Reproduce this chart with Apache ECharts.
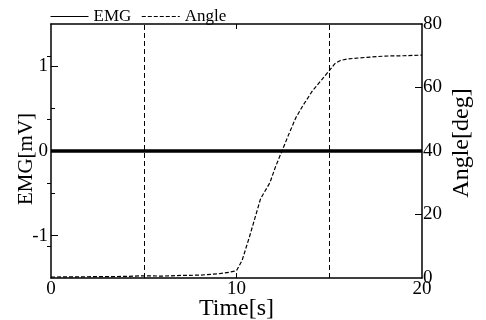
<!DOCTYPE html>
<html>
<head>
<meta charset="utf-8">
<script src="https://cdn.jsdelivr.net/npm/echarts@6/dist/echarts.min.js"></script>
<style>
  html, body { margin: 0; padding: 0; background: #fff; }
  #chart { width: 486px; height: 320px; }
</style>
</head>
<body>
<div id="chart"></div>
<script>
// time [s] and EMG [mV]
var emgTime = [0, 2, 4, 6, 8, 10, 12, 14, 16, 18, 20]
var emgValues = [0, 0, 0, 0, 0, 0, 0, 0, 0, 0, 0]
// time [s] and knee angle [deg]
var angleTime = [0, 2, 4, 5, 6, 7, 8, 9, 9.6, 10, 10.3, 10.7, 11, 11.3, 11.8, 12.1, 12.45, 12.8, 13.2, 13.6, 14.1, 14.6, 15, 15.3, 15.6, 16, 17, 18, 19, 20]
var angleValues = [0.3, 0.4, 0.5, 0.7, 0.6, 0.8, 0.9, 1.3, 1.8, 2.3, 5.5, 13, 19, 25, 30, 35, 40, 45, 50.5, 54.5, 59, 62.5, 65.3, 67.5, 68.5, 69, 69.5, 69.9, 70, 70.2]
// marker times (dashed vertical lines)
var markTimes = [5, 15]
// tick labels
var xLabels = [0, 10, 20]
var emgLabels = [-1, 0, 1]
var emgMinor = [-0.5, 0.5]
var angleLabels = [0, 20, 40, 60, 80]
var angleMajor = [20, 40, 60]
var angleMinor = [10, 30, 50, 70]

var font = 'Liberation Serif'

function pairs(xs, ys) {
  return xs.map(function (x, i) { return [x, ys[i]] })
}

var lineAxis = { onZero: false, lineStyle: { color: '#000', width: 1.5 } }

var chart = echarts.init(document.getElementById('chart'))
chart.setOption({
  animation: false,
  backgroundColor: '#fff',
  textStyle: { fontFamily: font, color: '#000' },
  grid: { left: 51, right: 64, top: 24, bottom: 42, outerBoundsMode: 'none', containLabel: false },
  legend: {
    data: ['EMG', 'Angle'],
    left: 45,
    top: 3,
    itemWidth: 38,
    itemHeight: 14,
    itemGap: 10,
    lineStyle: { width: 1 },
    itemStyle: { opacity: 0 },
    textStyle: { fontFamily: font, fontSize: 17, color: '#000' }
  },
  xAxis: [
    {
      type: 'value',
      min: 0,
      max: 20,
      interval: 10,
      name: 'Time[s]',
      nameLocation: 'middle',
      nameGap: 19,
      nameMoveOverlap: false,
      nameTextStyle: { fontFamily: font, fontSize: 24, color: '#000', verticalAlign: 'top' },
      axisLine: lineAxis,
      axisTick: { inside: true, length: 5, customValues: [10], lineStyle: { color: '#000' } },
      axisLabel: { customValues: xLabels, margin: 2, fontSize: 19, color: '#000', fontFamily: font },
      splitLine: { show: false }
    },
    {
      type: 'value',
      position: 'top',
      min: 0,
      max: 20,
      interval: 10,
      axisLine: lineAxis,
      axisTick: { inside: true, length: 5, customValues: [10], lineStyle: { color: '#000' } },
      axisLabel: { show: false },
      splitLine: { show: false }
    }
  ],
  yAxis: [
    {
      type: 'value',
      position: 'left',
      min: -1.5,
      max: 1.5,
      interval: 0.5,
      name: 'EMG[mV]',
      nameLocation: 'middle',
      nameGap: 14,
      nameMoveOverlap: false,
      nameTextStyle: { fontFamily: font, fontSize: 21, color: '#000', padding: [0, 16, 0, 0] },
      axisLine: lineAxis,
      axisTick: { inside: true, length: 7, customValues: emgLabels, lineStyle: { color: '#000' } },
      axisLabel: { customValues: emgLabels, margin: 3, fontSize: 19, color: '#000', fontFamily: font },
      splitLine: { show: false }
    },
    {
      type: 'value',
      position: 'left',
      min: -1.5,
      max: 1.5,
      interval: 0.5,
      axisLine: { show: false },
      axisTick: { inside: true, length: 4, customValues: emgMinor, lineStyle: { color: '#000' } },
      axisLabel: { show: false },
      splitLine: { show: false }
    },
    {
      type: 'value',
      position: 'right',
      min: 0,
      max: 80,
      interval: 10,
      name: 'Angle[deg]',
      nameLocation: 'middle',
      nameGap: 28,
      nameMoveOverlap: false,
      nameTextStyle: { fontFamily: font, fontSize: 24, color: '#000', padding: [0, 0, 0, 16] },
      axisLine: lineAxis,
      axisTick: { inside: true, length: 7, customValues: angleMajor, lineStyle: { color: '#000' } },
      axisLabel: { customValues: angleLabels, margin: 1, fontSize: 19, color: '#000', fontFamily: font },
      splitLine: { show: false }
    },
    {
      type: 'value',
      position: 'right',
      min: 0,
      max: 80,
      interval: 10,
      axisLine: { show: false },
      axisTick: { inside: true, length: 4, customValues: angleMinor, lineStyle: { color: '#000' } },
      axisLabel: { show: false },
      splitLine: { show: false }
    }
  ],
  series: [
    {
      name: 'EMG',
      type: 'line',
      yAxisIndex: 0,
      symbol: 'none',
      color: '#000',
      lineStyle: { color: '#000', width: 3.5 },
      data: pairs(emgTime, emgValues)
    },
    {
      name: 'Angle',
      type: 'line',
      yAxisIndex: 2,
      symbol: 'none',
      color: '#000',
      lineStyle: { color: '#000', width: 1.2, type: [4, 2] },
      data: pairs(angleTime, angleValues),
      markLine: {
        silent: true,
        symbol: 'none',
        label: { show: false },
        lineStyle: { color: '#000', width: 1, type: [5, 3] },
        data: markTimes.map(function (t) { return { xAxis: t } })
      }
    }
  ]
})
</script>
</body>
</html>
